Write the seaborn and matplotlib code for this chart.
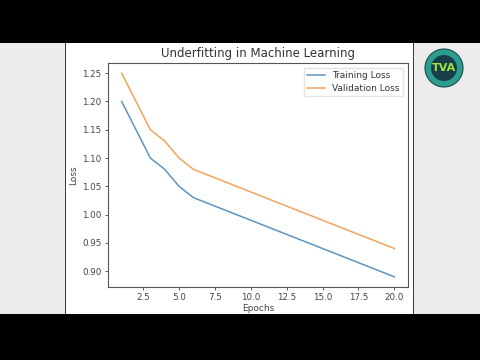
import matplotlib
matplotlib.use("Agg")
import matplotlib.pyplot as plt
import matplotlib.patches as mpatches
import seaborn as sns
import pandas as pd

epochs = list(range(1, 21))
training_loss = [1.20, 1.15, 1.10, 1.08, 1.05, 1.03, 1.02, 1.01, 1.00, 0.99,
                 0.98, 0.97, 0.96, 0.95, 0.94, 0.93, 0.92, 0.91, 0.90, 0.89]
validation_loss = [1.25, 1.20, 1.15, 1.13, 1.10, 1.08, 1.07, 1.06, 1.05, 1.04,
                   1.03, 1.02, 1.01, 1.00, 0.99, 0.98, 0.97, 0.96, 0.95, 0.94]
series_names = ["Training Loss", "Validation Loss"]
title = "Underfitting in Machine Learning"

df = pd.DataFrame({
    "Epochs": epochs * 2,
    "Loss": training_loss + validation_loss,
    "Series": [series_names[0]] * len(epochs) + [series_names[1]] * len(epochs),
})

W, H = 480, 360
fig = plt.figure(figsize=(4.8, 3.6), dpi=100, facecolor="black")

def rect(x, y, w, h, color, z=-5):
    fig.patches.append(mpatches.Rectangle((x / W, 1 - (y + h) / H), w / W, h / H,
                                          transform=fig.transFigure, facecolor=color,
                                          edgecolor="none", zorder=z))

# screen background
rect(0, 43, 480, 271, "#ececec", -6)
rect(66, 43, 347, 271, "white", -5)
rect(64.5, 43, 1.8, 271, "#3a3a3a", -4)
rect(412.5, 43, 1.8, 271, "#3a3a3a", -4)

# logo
cx, cy = 444 / W, 1 - 68 / H
fig.patches.append(mpatches.Ellipse((cx, cy), 38 / W, 38 / H, transform=fig.transFigure,
                                    facecolor="#2a9d8f", edgecolor="#1c4b47", lw=0.8, zorder=-3))
fig.patches.append(mpatches.Ellipse((cx, cy), 26 / W, 26 / H, transform=fig.transFigure,
                                    facecolor="#163f4a", edgecolor="none", zorder=-2))
fig.text(cx, cy, "TVA", ha="center", va="center", fontsize=8, fontweight="bold",
         color="#9be33c", zorder=-1)

ax = fig.add_axes([108 / W, 1 - 287 / H, 300 / W, 224 / H])
ax.set_zorder(5)
ax.set_facecolor("white")
sns.lineplot(data=df, x="Epochs", y="Loss", hue="Series", ax=ax,
             palette=["#5b95c2", "#f3a35a"], linewidth=1.1)
ax.set_title(title, fontsize=8.5, color="#333333", pad=4)
ax.set_xlabel("Epochs", fontsize=6.5, color="#444444", labelpad=1)
ax.set_ylabel("Loss", fontsize=6.5, color="#444444", labelpad=3)
ax.set_xticks([2.5, 5.0, 7.5, 10.0, 12.5, 15.0, 17.5, 20.0])
ax.set_yticks([0.90, 0.95, 1.00, 1.05, 1.10, 1.15, 1.20, 1.25])
ax.tick_params(labelsize=6.3, colors="#444444", length=2.5, width=0.6, pad=2)
for s in ax.spines.values():
    s.set_color("#555555")
    s.set_linewidth(0.8)
leg = ax.legend(loc="upper right", fontsize=6.5, frameon=True, handlelength=2.0,
                borderpad=0.4, labelspacing=0.4)
leg.get_frame().set_edgecolor("#dddddd")
for t in leg.get_texts():
    t.set_color("#333333")

fig.savefig("out.png", dpi=100, facecolor="black")
